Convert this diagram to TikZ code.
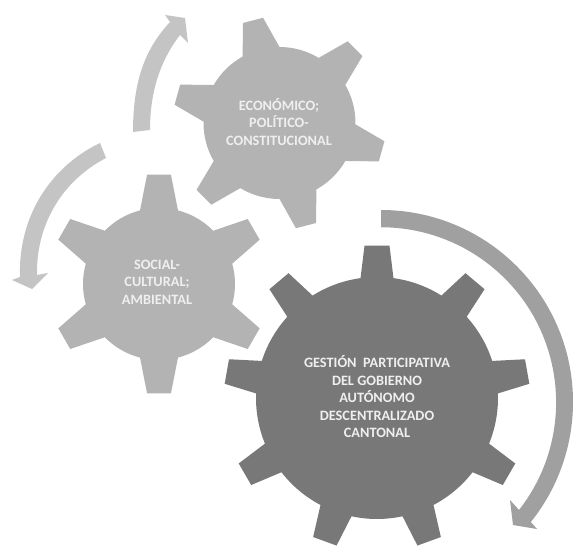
\documentclass[tikz,border=0pt]{standalone}
\usepackage{fontspec}
\setmainfont{Carlito}
\definecolor{geardark}{HTML}{787878}
\definecolor{gearmid}{HTML}{B3B3B3}
\definecolor{arrowdark}{HTML}{A0A0A0}
\definecolor{arrowlight}{HTML}{C4C4C4}
\definecolor{geartext}{HTML}{EFEFEF}
\newcommand{\gearshape}[9]{%
  \pgfmathsetmacro{\gst}{360/#5}%
  \pgfmathsetmacro{\gba}{asin(#7/#3)}%
  \pgfmathsetmacro{\gta}{atan(#8/#4)}%
  \pgfmathtruncatemacro{\glast}{#5-1}%
  \fill[#9,shift={(#1,#2)}] ({#6-\gba}:#3pt)
    \foreach \k [evaluate=\k as \a using #6+\k*\gst] in {0,...,\glast} {
      -- ({\a-\gta}:#4pt) -- ({\a+\gta}:#4pt) -- ({\a+\gba}:#3pt)
      arc[start angle={\a+\gba},end angle={\a+\gst-\gba},radius=#3pt]
    } -- cycle;%
}
\tikzset{
  gearlabel/.style={align=center,text=geartext,font=\fontsize{14.3}{17.5}\selectfont\bfseries,inner sep=0pt},
}
\begin{document}
\begin{tikzpicture}[x=1pt,y=1pt]
\useasboundingbox (0,0) rectangle (573,547);
% gears
\gearshape{279.5}{424}{76}{106.5}{6}{104.5}{19}{10.5}{gearmid}
\gearshape{159}{263}{76}{110}{6}{90}{19}{12}{gearmid}
\gearshape{377}{149}{121}{153}{9}{90}{16.5}{12.5}{geardark}
% arrows
\fill[arrowdark] (381,337) arc[start angle=90,end angle=-38.7,radius=192pt]
  -- (537,18) -- (513,22) -- (510,47) -- (519,37)
  arc[start angle=-38,end angle=90,radius=175pt] -- cycle;
\fill[arrowlight] (133,415) .. controls (133,470) and (147,500) .. (170,525)
  -- (165,532) -- (185,529) -- (188,504) -- (180,512)
  .. controls (163,490) and (150,460) .. (150,417) -- cycle;
\fill[arrowlight] (100,404) .. controls (50,380) and (18,330) .. (20,270)
  -- (12,267) -- (32,258) -- (48,274) -- (37,272)
  .. controls (36,320) and (60,365) .. (106,389) -- cycle;
% labels
\node[gearlabel] (econ) at (279,425) {ECONÓMICO;\\POLÍTICO-\\CONSTITUCIONAL};
\node[gearlabel] (soc) at (157,265) {SOCIAL-\\CULTURAL;\\AMBIENTAL};
\node[gearlabel] (gest) at (377,150) {GESTIÓN \ PARTICIPATIVA\\DEL GOBIERNO\\AUTÓNOMO\\DESCENTRALIZADO\\CANTONAL};
\end{tikzpicture}
\end{document}
